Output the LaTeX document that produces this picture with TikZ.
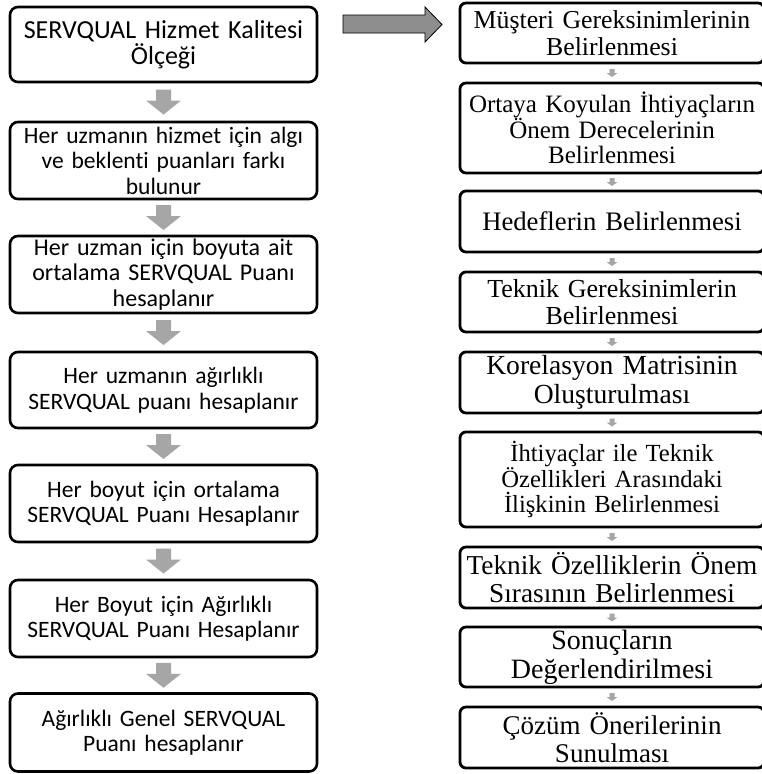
\documentclass[tikz,border=0pt]{standalone}
\usepackage{fontspec}
\setmainfont{Liberation Serif}
\newfontfamily\calib[Ligatures=CommonOff]{Carlito}
\usetikzlibrary{calc}
\definecolor{flowgray}{HTML}{A6A6A6}
\definecolor{jumpgray}{HTML}{8E8E8E}
\newcommand\sanssize[1]{\calib\fontsize{#1}{25.5}\selectfont}
\newcommand\serifsize[1]{\fontsize{#1}{1.03\dimexpr#1pt\relax}\selectfont}
\tikzset{
  lbox/.style={draw, line width=2.6pt, rounded corners=8pt, minimum width=307pt,
    inner sep=0pt, align=center, text width=304pt, font=\sanssize{23.5}},
  rbox/.style={draw, line width=2.8pt, rounded corners=6pt, minimum width=304pt,
    inner sep=0pt, align=center, text width=302pt, font=\serifsize{26}},
  bigdown/.pic={\fill[flowgray] (-7.5,-12.5) -- (7.5,-12.5) -- (7.5,-1.5) -- (17.5,-1.5)
      -- (0,12.5) -- (-17.5,-1.5) -- (-7.5,-1.5) -- cycle;},
  smalldown/.pic={\fill[flowgray] (-2.5,-4) -- (2.5,-4) -- (2.5,0) -- (5.5,0)
      -- (0,4) -- (-5.5,0) -- (-2.5,0) -- cycle;},
}
\begin{document}
\begin{tikzpicture}[x=1pt,y=-1pt]
\useasboundingbox (0,0) rectangle (762,774);
\clip (0,0) rectangle (762,774);
\fill[white] (0,0) rectangle (762,774);

% SERVQUAL steps
\node[lbox, minimum height=75pt, font=\sanssize{26}] (b1) at (163.5,44.5) {SERVQUAL Hizmet Kalitesi\\Ölçeği};
\node[lbox, minimum height=77pt] (b2) at (163.5,160.5) {Her uzmanın hizmet için algı\\ve beklenti puanları farkı\\bulunur};
\node[lbox, minimum height=77pt, font=\sanssize{24}] (b3) at (163.5,274.5) {Her uzman için boyuta ait\\ortalama SERVQUAL Puanı\\hesaplanır};
\node[lbox, minimum height=76pt] (b4) at (163.5,390) {Her uzmanın ağırlıklı\\SERVQUAL puanı hesaplanır};
\node[lbox, minimum height=77pt] (b5) at (163.5,503.5) {Her boyut için ortalama\\SERVQUAL Puanı Hesaplanır};
\node[lbox, minimum height=77pt] (b6) at (163.5,618.5) {Her Boyut için Ağırlıklı\\SERVQUAL Puanı Hesaplanır};
\node[lbox, minimum height=78pt] (b7) at (163.5,732.5) {Ağırlıklı Genel SERVQUAL\\Puanı hesaplanır};

\foreach \a/\b in {b1/b2,b2/b3,b3/b4,b4/b5,b5/b6,b6/b7}
  \pic at ($(\a.south)!0.5!(\b.north)$) {bigdown};

% QFD steps
\node[rbox, minimum height=60pt, font=\serifsize{25.8}] (r1) at (612,33) {Müşteri Gereksinimlerinin\\Belirlenmesi};
\node[rbox, minimum height=90pt, font=\serifsize{25}] (r2) at (612,128) {Ortaya Koyulan İhtiyaçların\\Önem Derecelerinin\\Belirlenmesi};
\node[rbox, minimum height=61pt, font=\serifsize{26.7}] (r3) at (612,221.5) {Hedeflerin Belirlenmesi};
\node[rbox, minimum height=60pt] (r4) at (612,302) {Teknik Gereksinimlerin\\Belirlenmesi};
\node[rbox, minimum height=61pt, font=\serifsize{27.6}] (r5) at (612,382.5) {Korelasyon Matrisinin\\Oluşturulması};
\node[rbox, minimum height=95pt, font=\serifsize{24.6}] (r6) at (612,479.5) {İhtiyaçlar ile Teknik\\Özellikleri Arasındaki\\İlişkinin Belirlenmesi};
\node[rbox, minimum height=61pt, font=\serifsize{27.3}] (r7) at (612,577.5) {Teknik Özelliklerin Önem\\Sırasının Belirlenmesi};
\node[rbox, minimum height=60pt, font=\serifsize{28}] (r8) at (612,657) {Sonuçların\\Değerlendirilmesi};
\node[rbox, minimum height=61pt, font=\serifsize{27}] (r9) at (612,737.5) {Çözüm Önerilerinin\\Sunulması};

\foreach \a/\b in {r1/r2,r2/r3,r3/r4,r4/r5,r5/r6,r6/r7,r7/r8,r8/r9}
  \pic at ($(\a.south)!0.5!(\b.north)$) {smalldown};

% link between the two procedures
\filldraw[fill=jumpgray, draw=black, line width=0.8pt]
  (343,15) -- (425,15) -- (425,7) -- (442,24.5) -- (425,42) -- (425,33) -- (343,33) -- cycle;
\end{tikzpicture}
\end{document}
